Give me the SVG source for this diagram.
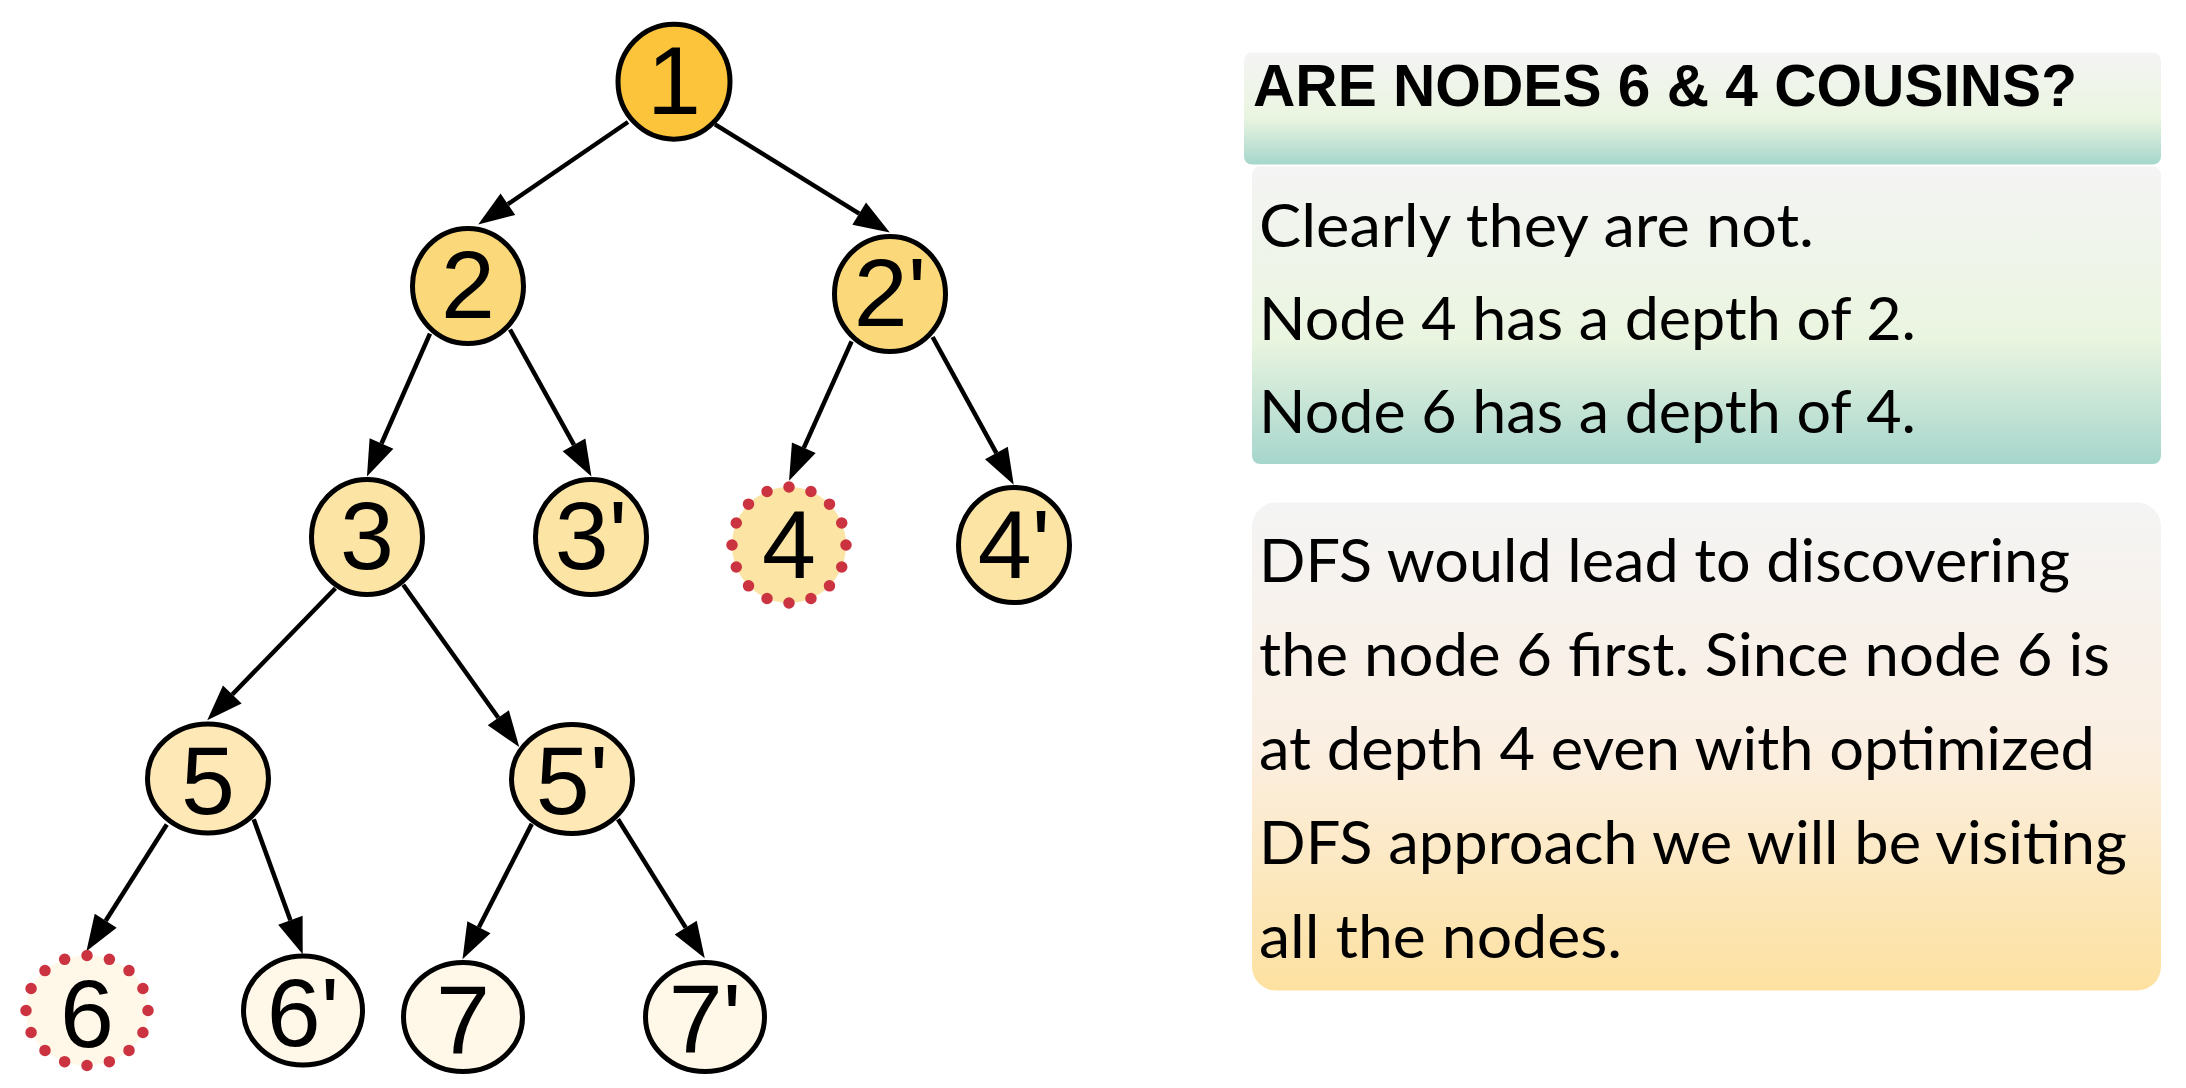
<svg xmlns="http://www.w3.org/2000/svg" width="2186" height="1088" viewBox="0 0 2186 1088">
<defs>
<marker id="arr" markerUnits="userSpaceOnUse" markerWidth="40" markerHeight="28" refX="0" refY="13" orient="auto" overflow="visible">
<path d="M0,0 L36,13 L0,26 z" fill="#000"/>
</marker>
<linearGradient id="gGreen" x1="0" y1="0" x2="0" y2="1">
<stop offset="0" stop-color="#F4F4F4"/>
<stop offset="0.58" stop-color="#EAF5E0"/>
<stop offset="1" stop-color="#A6D6CC"/>
</linearGradient>
<linearGradient id="gOrange" x1="0" y1="0" x2="0" y2="1">
<stop offset="0" stop-color="#F4F4F4"/>
<stop offset="0.5" stop-color="#FBEFE2"/>
<stop offset="1" stop-color="#FDE1A0"/>
</linearGradient>
<style>
.n{stroke:#000;stroke-width:5}
.dot{stroke:#CC3340;stroke-width:11.5;stroke-linecap:round;stroke-dasharray:0 1;fill:none}
.lbl{font-family:"Liberation Sans",Arial,sans-serif;font-size:97px;text-anchor:middle;fill:#000}
.e{stroke:#000;stroke-width:4.5;fill:none;marker-end:url(#arr)}
.body{font-family:Lato,"Open Sans",sans-serif;font-size:60px;fill:#000}
.title{font-family:"Liberation Sans",Arial,sans-serif;font-weight:bold;font-size:60px;fill:#000}
.c1{fill:#FBC43B}.c2{fill:#FBD879}.c3{fill:#FCE4A4}.c4{fill:#FDE8B6}.c5{fill:#FFF8E9}
</style>
</defs>
<rect width="2186" height="1088" fill="#fff"/>
<g id="connectors">
<line class="e" x1="628" y1="122" x2="507.9" y2="204.2"/>
<line class="e" x1="715" y1="124.4" x2="859.2" y2="213.6"/>
<line class="e" x1="430" y1="333.7" x2="381.5" y2="443.5"/>
<line class="e" x1="510" y1="329.5" x2="574" y2="444.9"/>
<line class="e" x1="851.6" y1="341.3" x2="803.8" y2="447.8"/>
<line class="e" x1="932.6" y1="337" x2="996.4" y2="453.1"/>
<line class="e" x1="335.4" y1="588.2" x2="232.3" y2="694.5"/>
<line class="e" x1="403.2" y1="584.7" x2="498.3" y2="717.8"/>
<line class="e" x1="166.8" y1="824.5" x2="105.7" y2="920.8"/>
<line class="e" x1="253.7" y1="819.3" x2="290.4" y2="920.3"/>
<line class="e" x1="531.8" y1="823.9" x2="478.9" y2="927.2"/>
<line class="e" x1="618" y1="819.3" x2="685.7" y2="927.6"/>
</g>
<g id="node-1"><ellipse class="n c1" cx="674" cy="81.7" rx="56" ry="57.5"/><text class="lbl" x="674" y="114">1</text></g>
<g id="node-2"><ellipse class="n c2" cx="468" cy="286" rx="55.5" ry="57.5"/><text class="lbl" x="468" y="318">2</text></g>
<g id="node-2p"><ellipse class="n c2" cx="890" cy="294" rx="55.5" ry="57.5"/><text class="lbl" x="890" y="326">2'</text></g>
<g id="node-3"><ellipse class="n c3" cx="367" cy="537" rx="55.5" ry="57.5"/><text class="lbl" x="367" y="569">3</text></g>
<g id="node-3p"><ellipse class="n c3" cx="591" cy="537" rx="55.5" ry="57.5"/><text class="lbl" x="591" y="569">3'</text></g>
<g id="node-4"><ellipse class="c3" cx="789" cy="545" rx="57" ry="58"/><ellipse class="dot" cx="789" cy="545" rx="57" ry="58" pathLength="16"/><text class="lbl" x="789" y="578">4</text></g>
<g id="node-4p"><ellipse class="n c3" cx="1014" cy="545" rx="55.5" ry="57.5"/><text class="lbl" x="1014" y="578">4'</text></g>
<g id="node-5"><ellipse class="n c4" cx="208" cy="778.5" rx="60.5" ry="54.5"/><text class="lbl" x="208" y="813.5">5</text></g>
<g id="node-5p"><ellipse class="n c4" cx="572" cy="779" rx="60.5" ry="54.5"/><text class="lbl" x="572" y="814">5'</text></g>
<g id="node-6"><ellipse class="c5" cx="87" cy="1010.5" rx="61" ry="55"/><ellipse class="dot" cx="87" cy="1010.5" rx="61" ry="55" pathLength="16"/><text class="lbl" x="87" y="1046.5">6</text></g>
<g id="node-6p"><ellipse class="n c5" cx="303" cy="1010.5" rx="59.5" ry="54.5"/><text class="lbl" x="303" y="1046">6'</text></g>
<g id="node-7"><ellipse class="n c5" cx="463" cy="1017" rx="59.5" ry="54.5"/><text class="lbl" x="463" y="1053">7</text></g>
<g id="node-7p"><ellipse class="n c5" cx="705" cy="1017" rx="59.5" ry="54.5"/><text class="lbl" x="705" y="1052">7'</text></g>
<g id="panel-title">
<rect x="1244" y="52.5" width="917" height="112" rx="8" fill="url(#gGreen)"/>
<text class="title" x="1253" y="106" textLength="824" lengthAdjust="spacingAndGlyphs">ARE NODES 6 &amp; 4 COUSINS?</text>
</g>
<g id="panel-answer">
<rect x="1252" y="166.5" width="909" height="297.5" rx="8" fill="url(#gGreen)"/>
<text class="body" x="1259" y="246.5" textLength="555" lengthAdjust="spacingAndGlyphs">Clearly they are not.</text>
<text class="body" x="1259" y="339.5" textLength="657" lengthAdjust="spacingAndGlyphs">Node 4 has a depth of 2.</text>
<text class="body" x="1259" y="432.5" textLength="657" lengthAdjust="spacingAndGlyphs">Node 6 has a depth of 4.</text>
</g>
<g id="panel-dfs">
<rect x="1252" y="502.5" width="909" height="488" rx="24" fill="url(#gOrange)"/>
<text class="body" x="1259" y="581.5" textLength="811" lengthAdjust="spacingAndGlyphs">DFS would lead to discovering</text>
<text class="body" x="1259" y="676" textLength="851" lengthAdjust="spacingAndGlyphs">the node 6 first. Since node 6 is</text>
<text class="body" x="1259" y="770" textLength="836" lengthAdjust="spacingAndGlyphs">at depth 4 even with optimized</text>
<text class="body" x="1259" y="864" textLength="868" lengthAdjust="spacingAndGlyphs">DFS approach we will be visiting</text>
<text class="body" x="1259" y="958" textLength="363" lengthAdjust="spacingAndGlyphs">all the nodes.</text>
</g>
</svg>
